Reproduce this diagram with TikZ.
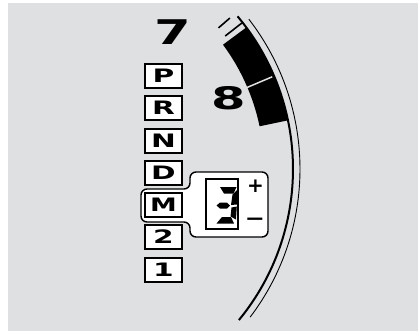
\documentclass[tikz,border=0pt]{standalone}
\usepackage{fontspec}
\usetikzlibrary{calc}
\newfontfamily\gfont{DejaVu Sans}
\definecolor{bggrey}{RGB}{223,224,226}
\newcommand{\widetext}[2][1.5]{\scalebox{#1}[1]{#2}}
\begin{document}
\begin{tikzpicture}[x=1pt,y=-1pt,
  gearbox/.style={draw, line width=2pt, fill=white, minimum width=37pt, minimum height=24pt, inner sep=0pt,
    font=\gfont\bfseries\fontsize{18.5}{18.5}\selectfont},
  bignum/.style={inner sep=0pt, font=\gfont\bfseries\fontsize{34}{34}\selectfont},
  sign/.style={inner sep=0pt, font=\gfont\bfseries\fontsize{20}{20}\selectfont},
  seg/.style={fill=black},
  tick/.style={line width=1.6pt},
]
\useasboundingbox (0,0) rectangle (418,333);
\fill[bggrey] (8,3) rectangle (418,331);

% dial
\coordinate (c) at (55,169);
\fill ($(c)+(-36.5:209)$) arc[start angle=-36.5, end angle=-11.8, radius=209]
  -- ($(c)+(-11.8:238)$) arc[start angle=-11.8, end angle=-36.5, radius=238] -- cycle;
\draw[bggrey, line width=1.5pt] ($(c)+(-23:206)$) -- ($(c)+(-23:236)$);
\draw[line width=2pt] ($(c)+(-39.9:238)$) arc[start angle=-39.9, end angle=39.4, radius=238];
\draw[line width=0.9pt] ($(c)+(-37.7:245)$) arc[start angle=-37.7, end angle=37.2, radius=245];
\draw[tick] ($(c)+(-40.8:216)$) -- ($(c)+(-40.8:231)$);
\draw[tick] ($(c)+(-38:216)$) -- ($(c)+(-38:237)$);

% numbers
\node[bignum] (seven) at (173,32.5) {\widetext[1.55]{7}};
\node[bignum, font=\gfont\bfseries\fontsize{31}{31}\selectfont] (eight) at (228.5,98.5) {\widetext[1.6]{8}};

% callout
\draw[line width=1.4pt, fill=white, rounded corners=6pt]
  (190,172) -- (268,172) -- (268,237) -- (190,237) -- (190,222) -- (141,222)
  -- (141,189) -- (190,189) -- cycle;
\draw[line width=1.5pt] (206,179) rectangle (238,229);
\fill[seg] (220,187) -- (236.5,187) -- (233.5,193.5) -- (224,193.5) -- cycle;
\fill[seg] (216.5,205.5) -- (220,202.5) -- (227,202.5) -- (230,205.5) -- (227,208.5) -- (220,208.5) -- cycle;
\fill[seg] (237.5,189.5) -- (236.8,204.5) -- (231,205) -- (232.5,194.5) -- cycle;
\fill[seg] (236.8,206.5) -- (236,219.5) -- (230.5,216.5) -- (231.5,207.5) -- cycle;
\fill[seg] (222,217) -- (231,217) -- (234,223.5) -- (216.5,223.5) -- cycle;
\node[sign] (plus) at (255.5,186.5) {+};
\node[sign] (minus) at (255,222) {\scalebox{1.2}[1]{−}};

% gear positions
\node[gearbox] (P) at (163.5,76) {\widetext[1.6]{P}};
\node[gearbox] (R) at (163.5,108) {\widetext[1.6]{R}};
\node[gearbox] (N) at (163.5,140.5) {\widetext[1.6]{N}};
\node[gearbox] (D) at (163.5,172.5) {\widetext[1.6]{D}};
\node[gearbox] (M) at (163.5,204.5) {\widetext[1.45]{M}};
\node[gearbox] (two) at (163.5,236.5) {\widetext[1.6]{2}};
\node[gearbox] (one) at (163.5,269.5) {\widetext[1.6]{1}};
\end{tikzpicture}
\end{document}
